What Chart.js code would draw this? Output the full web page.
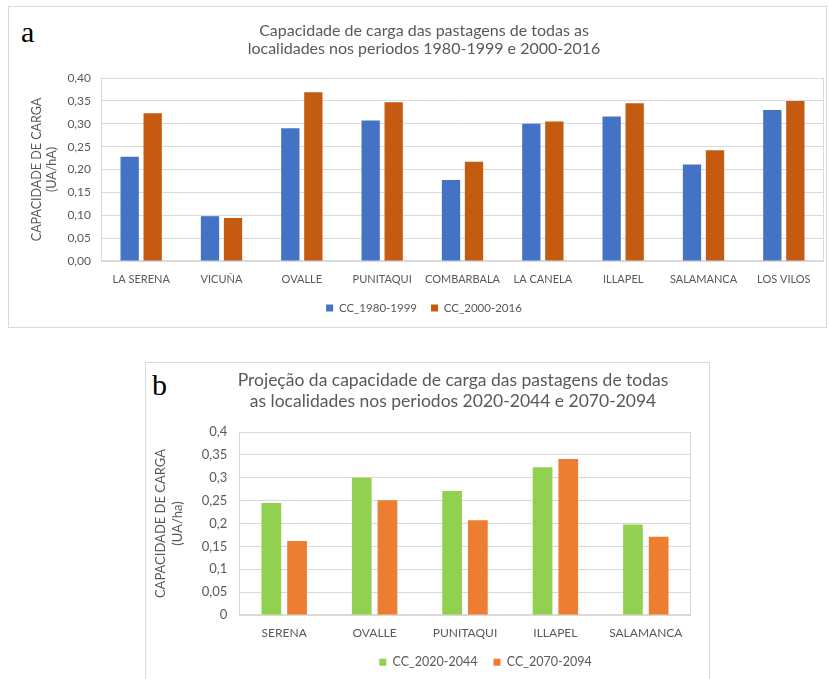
<!DOCTYPE html>
<html><head><meta charset="utf-8">
<script src="https://cdn.jsdelivr.net/npm/chart.js@4/dist/chart.umd.min.js"></script>
<style>
html,body{margin:0;padding:0;background:#fff;overflow:hidden;width:829px;height:679px;}
.frame{position:absolute;border:1px solid #d9d9d9;box-sizing:border-box;}
.tag{position:absolute;font-family:'Liberation Serif','DejaVu Serif',serif;font-size:30px;color:#000;line-height:1;}
.box{position:absolute;}
</style></head><body>
<div class="frame" style="left:8px;top:6px;width:819px;height:322px"></div>
<div class="frame" style="left:145px;top:362px;width:565px;height:330px"></div>
<div class="tag" style="left:21px;top:17px">a</div>
<div class="tag" style="left:152px;top:370px">b</div>
<div class="box" style="left:9px;top:7px;width:816px;height:320px"><canvas id="ca"></canvas></div>
<div class="box" style="left:146px;top:363px;width:562px;height:316px"><canvas id="cb"></canvas></div>
<script>
const categoriesA = ['LA SERENA','VICUÑA','OVALLE','PUNITAQUI','COMBARBALA','LA CANELA','ILLAPEL','SALAMANCA','LOS VILOS'];
const cc1980_1999 = [0.228,0.098,0.290,0.307,0.177,0.300,0.316,0.211,0.330];
const cc2000_2016 = [0.323,0.094,0.369,0.347,0.217,0.305,0.345,0.242,0.350];
const yTicksA = ['0,00','0,05','0,10','0,15','0,20','0,25','0,30','0,35','0,40'];

const categoriesB = ['SERENA','OVALLE','PUNITAQUI','ILLAPEL','SALAMANCA'];
const cc2020_2044 = [0.245,0.300,0.271,0.323,0.198];
const cc2070_2094 = [0.162,0.251,0.207,0.341,0.171];
const yTicksB = ['0','0,05','0,1','0,15','0,2','0,25','0,3','0,35','0,4'];

const GREY = '#595959';
const GRID = '#d9d9d9';

const plotFrame = {
  id:'plotFrame',
  beforeDatasetsDraw(chart, args, opts){
    const {ctx, chartArea:a} = chart;
    ctx.save();
    ctx.strokeStyle = opts.color || GRID;
    ctx.lineWidth = 1;
    const l = Math.round(a.left)+0.5, t = Math.round(a.top)+0.5;
    const r = Math.round(a.right)-0.5, b = Math.round(a.bottom)-0.5;
    ctx.strokeRect(l, t, r-l, b-t);
    ctx.restore();
  }
};
const shiftBoxes = {
  id:'shiftBoxes',
  afterLayout(chart, args, opts){
    if (opts.title && chart.titleBlock){ chart.titleBlock.left += opts.title; chart.titleBlock.right += opts.title; }
    if (opts.legend && chart.legend){ chart.legend.left += opts.legend; chart.legend.right += opts.legend; }
  }
};

new Chart(document.getElementById('ca'), {
  type:'bar',
  data:{labels:categoriesA, datasets:[
    {label:'CC_1980-1999', data:cc1980_1999, backgroundColor:'#4472C4'},
    {label:'CC_2000-2016', data:cc2000_2016, backgroundColor:'#C55A11'}]},
  options:{
    responsive:true, maintainAspectRatio:false, animation:false,
    datasets:{bar:{categoryPercentage:0.573, barPercentage:0.795}},
    layout:{padding:{left:15,right:1,top:0,bottom:3.25}},
    plugins:{
      title:{display:true, text:['Capacidade de carga das pastagens de todas as','localidades nos periodos 1980-1999 e 2000-2016'],
        color:GREY, font:{family:'Lato',size:16,weight:'normal',lineHeight:1.125}, padding:{top:14.5,bottom:20.5}},
      legend:{position:'bottom', labels:{boxWidth:7,boxHeight:7,padding:14,color:GREY,font:{family:'Lato',size:11.5}}},
      tooltip:{enabled:false},
      plotFrame:{color:GRID}
    },
    scales:{
      x:{grid:{display:false,drawTicks:false}, border:{display:false},
         ticks:{color:GREY,font:{family:'Lato',size:11},padding:11.4,maxRotation:0,autoSkip:false},
         afterFit:s=>{s.height=27.25;}},
      y:{min:0,max:0.4,
         ticks:{stepSize:0.05,color:GREY,font:{family:'Lato',size:12},padding:10,callback:(v,i)=>yTicksA[i]},
         grid:{color:GRID,drawTicks:false}, border:{display:false},
         title:{display:true,text:['CAPACIDADE DE CARGA','(UA/hA)'],color:GREY,font:{family:'Lato',size:12.5,lineHeight:1.2},padding:{top:5.5,bottom:0}},
         afterFit:s=>{s.width=77;}}
    }
  },
  plugins:[plotFrame]
});

new Chart(document.getElementById('cb'), {
  type:'bar',
  data:{labels:categoriesB, datasets:[
    {label:'CC_2020-2044', data:cc2020_2044, backgroundColor:'#92D050'},
    {label:'CC_2070-2094', data:cc2070_2094, backgroundColor:'#ED7D31'}]},
  options:{
    responsive:true, maintainAspectRatio:false, animation:false,
    datasets:{bar:{categoryPercentage:0.569, barPercentage:0.767}},
    layout:{padding:{left:0,right:17,top:0,bottom:0.5}},
    plugins:{
      title:{display:true, text:['Projeção da capacidade de carga das pastagens de todas','as localidades nos periodos 2020-2044 e 2070-2094'],
        color:GREY, font:{family:'Lato',size:17.5,weight:'normal',lineHeight:1.2}, padding:{top:7,bottom:20}},
      legend:{position:'bottom', labels:{boxWidth:7,boxHeight:7,padding:16,color:GREY,font:{family:'Lato',size:12.5}}},
      tooltip:{enabled:false},
      plotFrame:{color:GRID},
      shiftBoxes:{title:34.5, legend:67}
    },
    scales:{
      x:{grid:{display:false,drawTicks:false}, border:{display:false},
         ticks:{color:GREY,font:{family:'Lato',size:12},padding:11.3,maxRotation:0,autoSkip:false},
         afterFit:s=>{s.height=25;}},
      y:{min:0,max:0.4,
         ticks:{stepSize:0.05,color:GREY,font:{family:'Lato',size:13},padding:11.7,callback:(v,i)=>yTicksB[i]},
         grid:{color:GRID,drawTicks:false}, border:{display:false},
         title:{display:true,text:['CAPACIDADE DE CARGA','(UA/ha)'],color:GREY,font:{family:'Lato',size:13,lineHeight:1.346},padding:{top:5.75,bottom:0}},
         afterFit:s=>{s.width=93;}}
    }
  },
  plugins:[plotFrame, shiftBoxes]
});
</script>
</body></html>
